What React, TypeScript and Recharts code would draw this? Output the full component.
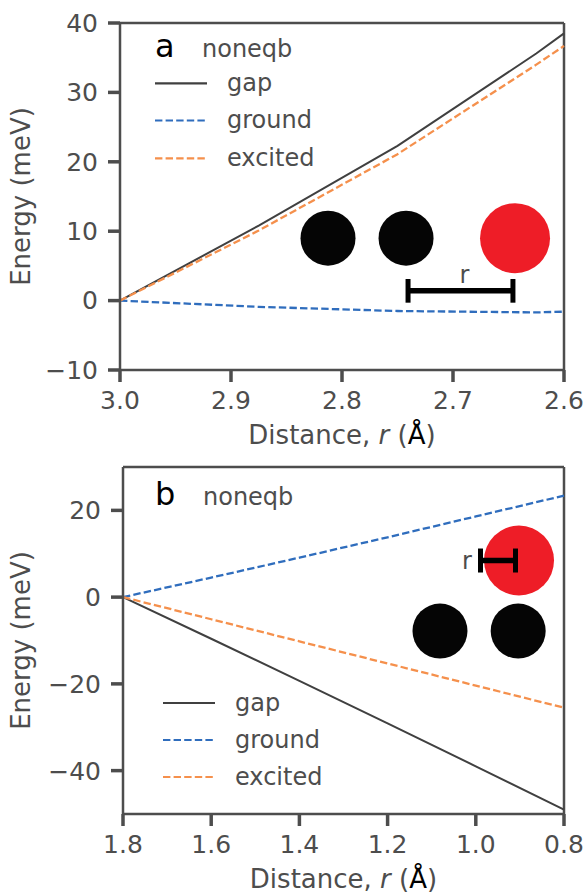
import React from 'react';
import { LineChart, Line, XAxis, YAxis, ReferenceLine, ReferenceDot } from 'recharts';

const FONT = '"DejaVu Sans", sans-serif';
const GREY = '#4d4d4d';

// ---------- panel a ----------
const distanceA = [3.0, 2.875, 2.75, 2.625, 2.6];
const gapA = [0, 10.8, 22.3, 35.6, 38.5];
const groundA = [0, -0.9, -1.5, -1.7, -1.6];
const excitedA = [0, 10.1, 21.1, 34.0, 36.7];
const xTicksA = [3.0, 2.9, 2.8, 2.7, 2.6];
const yTicksA = [-10, 0, 10, 20, 30, 40];

// ---------- panel b ----------
const distanceB = [1.8, 1.6, 1.4, 1.2, 1.0, 0.8];
const gapB = [0, -9.6, -19.3, -29.1, -39.0, -49.0];
const groundB = [0, 4.5, 9.1, 13.8, 18.6, 23.4];
const excitedB = [0, -5.1, -10.2, -15.3, -20.4, -25.5];
const xTicksB = [1.8, 1.6, 1.4, 1.2, 1.0, 0.8];
const yTicksB = [-40, -20, 0, 20];

const seriesNames = ['gap', 'ground', 'excited'];
const seriesColors = ['#404040', '#2f6dbd', '#f5904c'];
const seriesDash = ['', '7.4 3.2', '7.4 3.2'];

const dataA = distanceA.map((r, i) => ({ r, gap: gapA[i], ground: groundA[i], excited: excitedA[i] }));
const dataB = distanceB.map((r, i) => ({ r, gap: gapB[i], ground: groundB[i], excited: excitedB[i] }));

const fmtY = (v: number) => (v < 0 ? '\u2212' + Math.abs(v) : String(v));
const fmtX = (v: number) => v.toFixed(1);

const tickStyle = { fill: GREY, fontSize: 25, fontFamily: FONT };
const tickLine = { stroke: GREY, strokeWidth: 3.5 };
const axisLine = { stroke: GREY, strokeWidth: 2.5 };

const makeXLabel = (fallback: any) => (props: any) => {
  const vb = props && props.viewBox ? props.viewBox : fallback;
  const cx = vb.x + vb.width / 2;
  const y = vb.y + 74;
  return (
    <text x={cx} y={y} textAnchor="middle" fontFamily={FONT} fontSize={26} fill={GREY}>
      <tspan>Distance, </tspan>
      <tspan fontStyle="italic">r</tspan>
      <tspan> (</tspan>
      <tspan fill="#000">Å</tspan>
      <tspan>)</tspan>
    </text>
  );
};

const makeYLabel = (fallback: any) => (props: any) => {
  const vb = props && props.viewBox ? props.viewBox : fallback;
  const cy = vb.y + vb.height / 2;
  const x = 30;
  return (
    <text x={x} y={cy} textAnchor="middle" fontFamily={FONT} fontSize={26} fill={GREY} transform={`rotate(-90, ${x}, ${cy})`}>
      Energy (meV)
    </text>
  );
};

// small "r" scale bar drawn on top of the red atom (panel b)
const ScaleBarShape = (props: any) => {
  const { cx, cy } = props;
  const hw = 17.5;
  return (
    <g>
      <line x1={cx - hw} x2={cx + hw} y1={cy} y2={cy} stroke="#000" strokeWidth={5.5} />
      <line x1={cx - hw} x2={cx - hw} y1={cy - 12} y2={cy + 12} stroke="#000" strokeWidth={5} />
      <line x1={cx + hw} x2={cx + hw} y1={cy - 12} y2={cy + 12} stroke="#000" strokeWidth={5} />
      <text x={cx - hw - 8.5} y={cy + 8.5} textAnchor="end" fontFamily={FONT} fontSize={24} fill={GREY}>r</text>
    </g>
  );
};

type LegendProps = { width: number; height: number; letter: string; letterPos: [number, number]; titlePos: [number, number]; lineX: number; textX: number; rows: number[] };

const Overlay = ({ width, height, letter, letterPos, titlePos, lineX, textX, rows }: LegendProps) => (
  <svg width={width} height={height} style={{ position: 'absolute', left: 0, top: 0, pointerEvents: 'none' }}>
    <text x={letterPos[0]} y={letterPos[1]} fontFamily={FONT} fontSize={32} fill="#000">{letter}</text>
    <text x={titlePos[0]} y={titlePos[1]} fontFamily={FONT} fontSize={24} fill={GREY}>noneqb</text>
    {seriesNames.map((n, i) => (
      <g key={n}>
        <line x1={lineX} x2={lineX + 52} y1={rows[i]} y2={rows[i]} stroke={seriesColors[i]} strokeWidth={2.2} strokeDasharray={seriesDash[i] || undefined} />
        <text x={textX} y={rows[i] + 7.5} fontFamily={FONT} fontSize={24} fill={GREY}>{n}</text>
      </g>
    ))}
  </svg>
);

const renderLines = () =>
  seriesNames.map((n, i) => (
    <Line
      key={n}
      type="linear"
      dataKey={n}
      name={n}
      stroke={seriesColors[i]}
      strokeWidth={i === 0 ? 2 : 2.3}
      strokeDasharray={seriesDash[i] || undefined}
      dot={false}
      activeDot={false}
      isAnimationActive={false}
    />
  ));

export default function App() {
  return (
    <div style={{ position: 'absolute', left: 0, top: 0, width: 587, height: 894, background: '#fff' }}>
      {/* panel a */}
      <div style={{ position: 'absolute', left: 0, top: 0, width: 587, height: 455 }}>
        <LineChart width={587} height={455} data={dataA} margin={{ top: 23, right: 23, left: 0, bottom: 0 }}>
          <XAxis
            dataKey="r"
            type="number"
            domain={[2.6, 3.0]}
            reversed
            ticks={xTicksA}
            tickFormatter={fmtX}
            height={85}
            tick={tickStyle}
            tickLine={tickLine}
            axisLine={axisLine}
            tickSize={12}
            tickMargin={9}
            interval={0}
            label={{ content: makeXLabel({ x: 120, y: 370, width: 444, height: 85 }) }}
          />
          <YAxis
            type="number"
            domain={[-10, 40]}
            ticks={yTicksA}
            tickFormatter={fmtY}
            width={120}
            tick={tickStyle}
            tickLine={tickLine}
            axisLine={axisLine}
            tickSize={12}
            tickMargin={10}
            interval={0}
            label={{ content: makeYLabel({ x: 0, y: 23, width: 120, height: 347 }) }}
          />
          <ReferenceLine y={40} stroke={GREY} strokeWidth={2.5} />
          <ReferenceLine x={2.6} stroke={GREY} strokeWidth={2.5} />
          {renderLines()}
          <ReferenceDot x={2.8126} y={9.0} r={27.5} fill="#050505" stroke="none" />
          <ReferenceDot x={2.7423} y={9.0} r={27.5} fill="#050505" stroke="none" />
          <ReferenceDot x={2.6441} y={9.0} r={35} fill="#ee1d27" stroke="none" />
          <ReferenceLine
            segment={[{ x: 2.7405, y: 1.43 }, { x: 2.646, y: 1.43 }]}
            stroke="#000"
            strokeWidth={5.5}
            label={{ value: 'r', position: 'top', offset: 8, dx: 4, fill: GREY, fontSize: 24, fontFamily: FONT }}
          />
          <ReferenceLine segment={[{ x: 2.7405, y: 3.11 }, { x: 2.7405, y: -0.3 }]} stroke="#000" strokeWidth={5} />
          <ReferenceLine segment={[{ x: 2.646, y: 3.11 }, { x: 2.646, y: -0.3 }]} stroke="#000" strokeWidth={5} />
        </LineChart>
        <Overlay width={587} height={455} letter="a" letterPos={[155, 57]} titlePos={[202, 57]} lineX={155} textX={227} rows={[83.3, 120.5, 158.3]} />
      </div>

      {/* panel b */}
      <div style={{ position: 'absolute', left: 0, top: 455, width: 587, height: 439 }}>
        <LineChart width={587} height={439} data={dataB} margin={{ top: 12, right: 23, left: 0, bottom: 0 }}>
          <XAxis
            dataKey="r"
            type="number"
            domain={[0.8, 1.8]}
            reversed
            ticks={xTicksB}
            tickFormatter={fmtX}
            height={80}
            tick={tickStyle}
            tickLine={tickLine}
            axisLine={axisLine}
            tickSize={12}
            tickMargin={9}
            interval={0}
            label={{ content: makeXLabel({ x: 123, y: 359, width: 441, height: 80 }) }}
          />
          <YAxis
            type="number"
            domain={[-50, 30]}
            ticks={yTicksB}
            tickFormatter={fmtY}
            width={123}
            tick={tickStyle}
            tickLine={tickLine}
            axisLine={axisLine}
            tickSize={12}
            tickMargin={10}
            interval={0}
            label={{ content: makeYLabel({ x: 0, y: 12, width: 123, height: 347 }) }}
          />
          <ReferenceLine y={30} stroke={GREY} strokeWidth={2.5} />
          <ReferenceLine x={0.8} stroke={GREY} strokeWidth={2.5} />
          {renderLines()}
          <ReferenceDot x={0.902} y={8.44} r={35} fill="#ee1d27" stroke="none" />
          <ReferenceDot x={1.0812} y={-7.82} r={27.5} fill="#050505" stroke="none" />
          <ReferenceDot x={0.9039} y={-7.82} r={27.5} fill="#050505" stroke="none" />
          <ReferenceDot x={0.9497} y={8.44} r={1} shape={ScaleBarShape} />
        </LineChart>
        <Overlay width={587} height={439} letter="b" letterPos={[155, 50]} titlePos={[203, 50]} lineX={163} textX={235} rows={[248, 285, 322]} />
      </div>
    </div>
  );
}
